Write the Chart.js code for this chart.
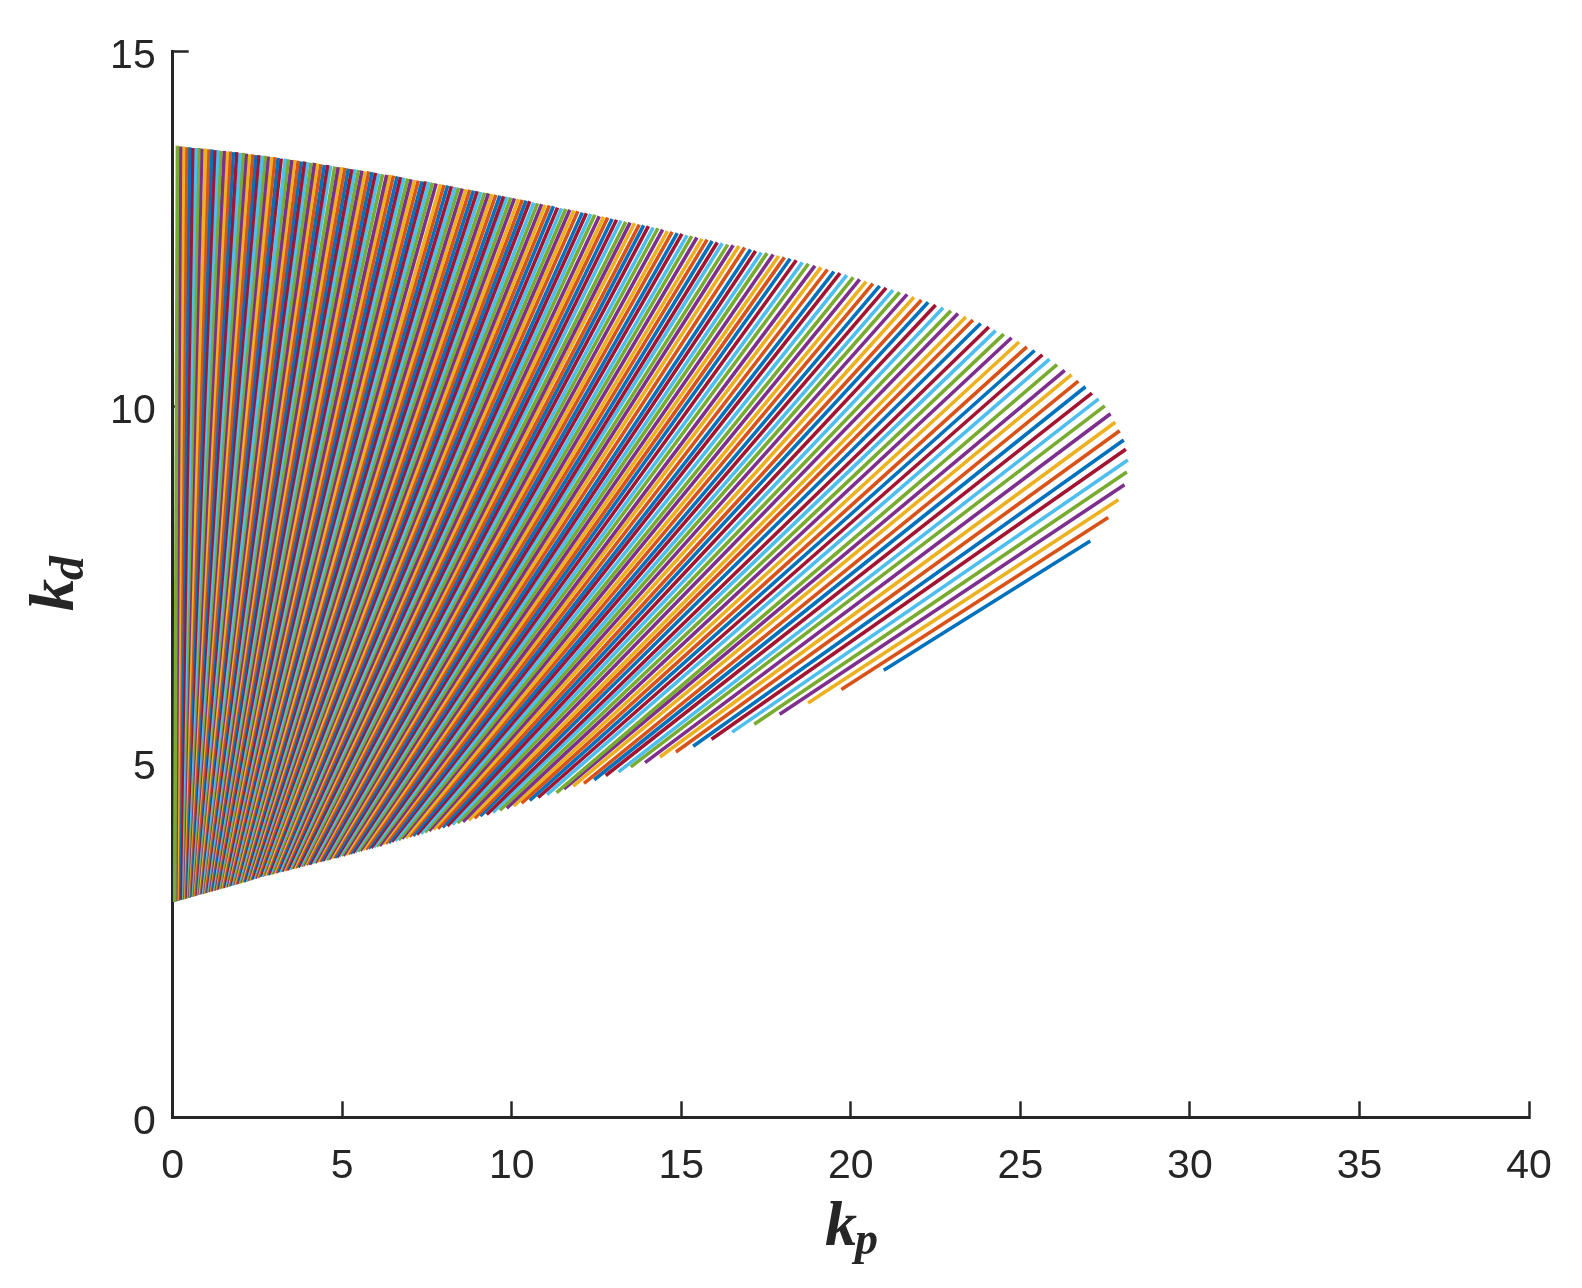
<!DOCTYPE html>
<html>
<head>
<meta charset="utf-8">
<style>
  html, body { margin: 0; padding: 0; background: #fff; }
  canvas { display: block; }
</style>
<script src="https://cdn.jsdelivr.net/npm/chart.js@4"></script>
</head>
<body>
<canvas id="myChart" width="1582" height="1288"></canvas>
<script>
// each line n runs from (kpLower[n], kdLower[n]) to (kpUpper[n], kdUpper[n])
const kpUpper = [
  27.06,27.59,27.89,28.07,28.14,28.17,28.11,28.05,27.93,27.80,
  27.66,27.49,27.31,27.11,26.92,26.71,26.51,26.31,26.08,25.86,
  25.65,25.42,25.19,24.96,24.74,24.51,24.27,24.07,23.83,23.60,
  23.39,23.16,22.95,22.72,22.50,22.28,22.08,21.86,21.66,21.44,
  21.24,21.04,20.85,20.65,20.45,20.26,20.07,19.88,19.68,19.50,
  19.31,19.12,18.94,18.75,18.57,18.39,18.21,18.04,17.87,17.71,
  17.53,17.36,17.19,17.04,16.87,16.70,16.53,16.37,16.21,16.06,
  15.91,15.76,15.61,15.46,15.31,15.17,15.02,14.88,14.73,14.59,
  14.45,14.31,14.17,14.03,13.89,13.76,13.62,13.49,13.36,13.22,
  13.09,12.96,12.83,12.71,12.58,12.45,12.33,12.20,12.08,11.95,
  11.83,11.71,11.59,11.47,11.35,11.23,11.11,10.99,10.88,10.76,
  10.65,10.53,10.42,10.31,10.20,10.08,9.97,9.86,9.76,9.65,
  9.53,9.42,9.31,9.20,9.09,8.98,8.87,8.76,8.65,8.54,
  8.43,8.33,8.22,8.11,8.00,7.90,7.77,7.66,7.56,7.45,
  7.35,7.24,7.14,7.03,6.93,6.82,6.72,6.62,6.51,6.41,
  6.31,6.19,6.08,5.98,5.88,5.78,5.68,5.58,5.48,5.38,
  5.28,5.18,5.08,4.98,4.88,4.78,4.66,4.57,4.47,4.37,
  4.27,4.18,4.08,3.98,3.89,3.79,3.70,3.60,3.51,3.41,
  3.32,3.20,3.11,3.01,2.92,2.82,2.73,2.64,2.54,2.45,
  2.36,2.26,2.17,2.08,1.99,1.89,1.79,1.70,1.61,1.52,
  1.42,1.33,1.24,1.15,1.06,0.97,0.86,0.77,0.68,0.59,
  0.50,0.41,0.32,0.23,0.14
];
const kdUpper = [
  8.11,8.44,8.69,8.90,9.08,9.25,9.40,9.53,9.66,9.78,
  9.90,10.01,10.11,10.19,10.28,10.36,10.45,10.51,10.59,10.67,
  10.73,10.79,10.84,10.91,10.97,11.02,11.07,11.12,11.17,11.22,
  11.26,11.31,11.35,11.39,11.43,11.47,11.50,11.54,11.58,11.61,
  11.64,11.67,11.70,11.73,11.76,11.79,11.82,11.85,11.88,11.90,
  11.93,11.96,11.98,12.01,12.03,12.06,12.08,12.10,12.12,12.14,
  12.16,12.17,12.19,12.21,12.24,12.26,12.27,12.28,12.30,12.31,
  12.33,12.35,12.36,12.38,12.40,12.41,12.43,12.44,12.46,12.47,
  12.49,12.51,12.52,12.54,12.55,12.56,12.58,12.59,12.60,12.62,
  12.63,12.64,12.66,12.67,12.68,12.70,12.71,12.72,12.73,12.75,
  12.76,12.77,12.78,12.79,12.80,12.82,12.83,12.84,12.85,12.86,
  12.87,12.89,12.90,12.91,12.92,12.93,12.94,12.95,12.96,12.97,
  12.98,12.99,13.00,13.01,13.02,13.03,13.04,13.05,13.06,13.07,
  13.08,13.09,13.10,13.11,13.12,13.13,13.14,13.15,13.16,13.17,
  13.17,13.18,13.19,13.20,13.21,13.22,13.23,13.24,13.25,13.26,
  13.26,13.27,13.28,13.29,13.30,13.31,13.31,13.32,13.33,13.34,
  13.34,13.35,13.36,13.37,13.37,13.38,13.39,13.40,13.40,13.41,
  13.42,13.43,13.43,13.44,13.45,13.45,13.46,13.47,13.47,13.48,
  13.49,13.49,13.50,13.51,13.51,13.52,13.53,13.53,13.54,13.54,
  13.55,13.55,13.56,13.57,13.57,13.58,13.58,13.59,13.59,13.60,
  13.60,13.61,13.61,13.62,13.62,13.63,13.63,13.64,13.64,13.64,
  13.65,13.65,13.66,13.66,13.67
];
const kpLower = [
  20.97,19.72,18.74,17.90,17.15,16.50,15.89,15.35,14.84,14.37,
  13.93,13.51,13.15,12.77,12.43,12.13,11.81,11.54,11.32,11.04,
  10.78,10.53,10.29,10.06,9.85,9.65,9.44,9.26,9.07,8.90,
  8.73,8.56,8.40,8.25,8.10,7.96,7.82,7.69,7.56,7.44,
  7.32,7.20,7.09,6.98,6.87,6.76,6.66,6.56,6.46,6.37,
  6.28,6.19,6.10,6.01,5.93,5.85,5.77,5.69,5.61,5.53,
  5.46,5.38,5.31,5.24,5.17,5.10,5.03,4.97,4.90,4.84,
  4.78,4.72,4.66,4.60,4.54,4.48,4.42,4.36,4.31,4.25,
  4.20,4.15,4.10,4.04,3.99,3.94,3.89,3.84,3.80,3.75,
  3.70,3.65,3.61,3.56,3.52,3.47,3.43,3.38,3.34,3.30,
  3.26,3.22,3.17,3.13,3.09,3.05,3.01,2.97,2.93,2.90,
  2.86,2.82,2.78,2.75,2.71,2.67,2.64,2.60,2.57,2.53,
  2.50,2.46,2.43,2.39,2.36,2.33,2.29,2.26,2.23,2.20,
  2.16,2.13,2.10,2.07,2.04,2.01,1.98,1.95,1.92,1.89,
  1.86,1.83,1.80,1.77,1.74,1.71,1.68,1.65,1.63,1.60,
  1.57,1.54,1.52,1.49,1.46,1.44,1.41,1.38,1.36,1.33,
  1.31,1.28,1.26,1.23,1.21,1.18,1.16,1.13,1.11,1.08,
  1.06,1.04,1.01,0.99,0.96,0.94,0.92,0.89,0.87,0.85,
  0.83,0.80,0.78,0.76,0.74,0.71,0.69,0.67,0.65,0.63,
  0.61,0.58,0.56,0.54,0.52,0.50,0.48,0.46,0.44,0.42,
  0.40,0.38,0.36,0.34,0.32,0.30,0.28,0.26,0.24,0.22,
  0.17,0.14,0.12,0.09,0.06
];
const kdLower = [
  6.29,6.02,5.83,5.67,5.53,5.42,5.32,5.22,5.14,5.07,
  4.99,4.93,4.86,4.81,4.75,4.70,4.66,4.62,4.57,4.54,
  4.50,4.46,4.42,4.38,4.35,4.32,4.29,4.26,4.24,4.21,
  4.18,4.16,4.14,4.12,4.10,4.08,4.06,4.05,4.03,4.01,
  3.99,3.98,3.96,3.95,3.93,3.92,3.90,3.89,3.88,3.86,
  3.85,3.84,3.82,3.81,3.80,3.79,3.78,3.77,3.76,3.75,
  3.74,3.73,3.72,3.71,3.70,3.69,3.68,3.68,3.67,3.66,
  3.65,3.65,3.64,3.63,3.62,3.62,3.61,3.60,3.60,3.59,
  3.58,3.58,3.57,3.56,3.56,3.55,3.55,3.54,3.53,3.53,
  3.52,3.52,3.51,3.50,3.50,3.49,3.49,3.48,3.48,3.47,
  3.47,3.46,3.46,3.45,3.45,3.44,3.44,3.43,3.43,3.42,
  3.42,3.41,3.41,3.41,3.40,3.40,3.39,3.39,3.39,3.38,
  3.37,3.37,3.36,3.36,3.35,3.35,3.34,3.34,3.33,3.33,
  3.32,3.32,3.31,3.31,3.31,3.30,3.30,3.29,3.29,3.29,
  3.28,3.28,3.27,3.27,3.26,3.26,3.26,3.25,3.25,3.25,
  3.24,3.24,3.24,3.23,3.23,3.22,3.22,3.22,3.21,3.21,
  3.21,3.20,3.20,3.20,3.19,3.19,3.19,3.18,3.18,3.18,
  3.17,3.17,3.17,3.16,3.16,3.16,3.15,3.15,3.15,3.14,
  3.14,3.14,3.14,3.13,3.13,3.13,3.12,3.12,3.12,3.12,
  3.11,3.11,3.11,3.10,3.10,3.10,3.09,3.09,3.09,3.09,
  3.08,3.08,3.08,3.08,3.07,3.07,3.07,3.06,3.06,3.06,
  3.05,3.05,3.05,3.04,3.03
];
const lineColors = ['#0072BD', '#D95319', '#EDB120', '#7E2F8E', '#77AC30', '#4DBEEE', '#A2142F'];
const xTicks = [0, 5, 10, 15, 20, 25, 30, 35, 40];
const yTicks = [0, 5, 10, 15];

const inkColor = '#262626';

const datasets = kpUpper.map((kp, n) => ({
  data: [{ x: kpLower[n], y: kdLower[n] }, { x: kp, y: kdUpper[n] }],
  borderColor: lineColors[n % lineColors.length],
  borderWidth: 3.6,
  showLine: true,
  pointRadius: 0,
  order: -n        // later lines sit on top
}));

// the two axis names have subscripts, so they are written piece by piece
const axisNames = {
  id: 'axisNames',
  afterDraw(chart) {
    const c = chart.ctx;
    c.save();
    c.fillStyle = inkColor;
    c.textBaseline = 'alphabetic';
    c.textAlign = 'left';
    c.font = 'italic bold 64px "Liberation Serif"';
    c.fillText('k', 825, 1245);
    c.font = 'italic bold 46px "Liberation Serif"';
    c.fillText('p', 855, 1254);
    c.translate(73, 611);
    c.rotate(-Math.PI / 2);
    c.font = 'italic bold 64px "Liberation Serif"';
    c.fillText('k', 0, 0);
    c.font = 'italic bold 48px "Liberation Serif"';
    c.fillText('d', 31, 10);
    c.restore();
  }
};

const ctx = document.getElementById('myChart');
new Chart(ctx, {
  type: 'scatter',
  data: { datasets },
  plugins: [axisNames],
  options: {
    responsive: false,
    animation: false,
    layout: { padding: { top: 51.3, right: 53, bottom: 0, left: 0 } },
    plugins: { legend: { display: false }, tooltip: { enabled: false } },
    scales: {
      x: {
        type: 'linear',
        min: 0,
        max: 40,
        afterFit: s => { s.height = 170.7; s.paddingLeft = 0; s.paddingRight = 0; },
        afterBuildTicks: s => { s.ticks = xTicks.map(value => ({ value })); },
        border: { color: inkColor, width: 3 },
        grid: { drawOnChartArea: false, tickLength: -16, tickColor: inkColor, tickWidth: 2.5 },
        ticks: { color: inkColor, font: { family: '"Liberation Sans"', size: 41 }, padding: 41, maxRotation: 0 }
      },
      y: {
        type: 'linear',
        min: 0,
        max: 15,
        afterFit: s => { s.width = 172.7; s.paddingTop = 0; s.paddingBottom = 0; },
        afterBuildTicks: s => { s.ticks = yTicks.map(value => ({ value })); },
        border: { color: inkColor, width: 3 },
        grid: { drawOnChartArea: false, tickLength: -16, tickColor: inkColor, tickWidth: 2.5 },
        // blank first line nudges the number down to where the reference has it
        ticks: {
          color: inkColor,
          font: { family: '"Liberation Sans"', size: 41, lineHeight: 0.27 },
          padding: 33,
          callback: value => ['', String(value)]
        }
      }
    }
  }
});
</script>
</body>
</html>
